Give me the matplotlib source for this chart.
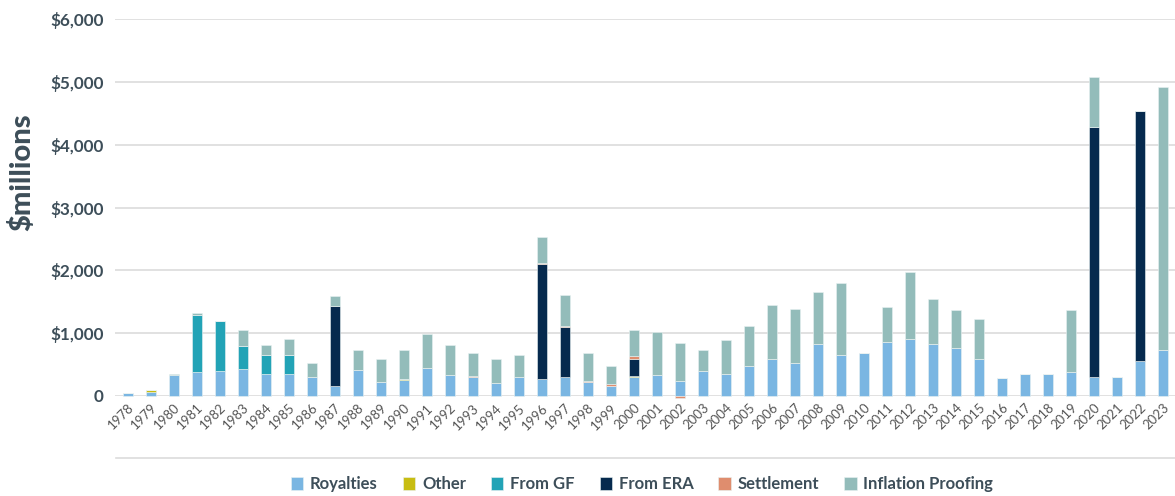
import matplotlib
matplotlib.use("Agg")
import matplotlib.pyplot as plt
from matplotlib.lines import Line2D
from matplotlib.ticker import FuncFormatter
import numpy as np

years = list(range(1978, 2024))

royalties = [50, 65, 330, 383, 400, 425, 355, 355, 310, 160,
             420, 230, 260, 440, 330, 305, 200, 305, 265, 305,
             228, 165, 305, 330, 245, 390, 355, 485, 590, 525,
             830, 655, 680, 865, 910, 830, 760, 590, 290, 355,
             355, 375, 305, 310, 550, 740]
other = [0, 30, 0, 0, 0, 0, 0, 0, 0, 0,
         0, 0, 8, 0, 0, 0, 0, 0, 0, 0,
         0, 0, 10, 0, 0, 0, 0, 0, 0, 0,
         0, 0, 0, 0, 0, 0, 0, 0, 0, 0,
         0, 0, 0, 0, 0, 0]
from_gf = [0, 0, 0, 900, 800, 378, 305, 305, 0, 0,
           0, 0, 0, 0, 0, 0, 0, 0, 0, 0,
           0, 0, 0, 0, 0, 0, 0, 0, 0, 0,
           0, 0, 0, 0, 0, 0, 0, 0, 0, 0,
           0, 0, 0, 0, 0, 0]
from_era = [0, 0, 0, 0, 0, 0, 0, 0, 0, 1275,
            0, 0, 0, 0, 0, 0, 0, 0, 1835, 795,
            0, 0, 280, 0, 0, 0, 0, 0, 0, 0,
            0, 0, 0, 0, 0, 0, 0, 0, 0, 0,
            0, 0, 3980, 0, 3980, 0]
settlement = [0, 0, 0, 0, 0, 0, 0, 0, 0, 0,
              0, 0, 0, 0, 0, 8, 0, 0, 20, 20,
              15, 20, 35, 0, -25, 0, 0, 0, 0, 0,
              0, 0, 0, 0, 0, 0, 0, 0, 0, 0,
              0, 0, 0, 0, 0, 0]
inflation = [0, 0, 25, 30, 0, 250, 155, 240, 215, 155,
             305, 365, 460, 545, 475, 370, 390, 350, 405, 480,
             435, 295, 420, 690, 600, 350, 540, 625, 865, 865,
             820, 1145, 0, 545, 1065, 715, 610, 630, 0, 0,
             0, 995, 785, 0, 0, 4175]

series = [
    ("Royalties", royalties, "#7AB6E2"),
    ("Other", other, "#C8BD12"),
    ("From GF", from_gf, "#22A3B6"),
    ("From ERA", from_era, "#062A4E"),
    ("Settlement", settlement, "#DF8D6E"),
    ("Inflation Proofing", inflation, "#93BCBA"),
]

plt.rcParams['font.family'] = ['Lato', 'DejaVu Sans']

W, H = 1175, 496
fig = plt.figure(figsize=(W / 100, H / 100), dpi=100)
ax = fig.add_axes([115 / W, 1 - 396 / H, 1 - 115 / W, (396 - 19) / H])

x = np.arange(len(years))
pos_bottom = np.zeros(len(years))
neg_bottom = np.zeros(len(years))
handles = []
for name, vals, color in series:
    v = np.array(vals, dtype=float)
    bottoms = np.where(v >= 0, pos_bottom, neg_bottom)
    bars = ax.bar(x, v, width=0.43, bottom=bottoms, color=color,
                  edgecolor="#EAF2F2", linewidth=0.4, zorder=3, label=name,
                  clip_on=False)
    pos_bottom += np.where(v > 0, v, 0)
    neg_bottom += np.where(v < 0, v, 0)
    handles.append(bars)

ax.set_ylim(0, 6000)
ax.set_xlim(-0.565, len(years) - 1 + 0.52)
ax.set_yticks(np.arange(0, 6001, 1000))
ax.yaxis.set_major_formatter(FuncFormatter(lambda v, p: "0" if v == 0 else f"${v:,.0f}"))
ax.grid(axis="y", color="#DEDEDE", linewidth=1.3, zorder=0)
ax.set_axisbelow(True)
for s in ax.spines.values():
    s.set_visible(False)

ax.set_xticks(x)
ax.set_xticklabels([str(y) for y in years], rotation=45, ha="right",
                   rotation_mode="anchor", fontsize=9.5, color="#555555")
ax.tick_params(axis="x", length=0, pad=4)
ax.tick_params(axis="y", length=0, pad=8, labelsize=12.3, labelcolor="#3D4E59")
for lbl in ax.get_yticklabels():
    lbl.set_fontweight("bold")

fig.text(22 / W, 1 - 172 / H, "$millions", rotation=90, ha="center", va="center",
         fontsize=21, fontweight="black", color="#3D4E59")

fig.add_artist(Line2D([116 / W, 1.0], [1 - 458 / H, 1 - 458 / H],
                      color="#DCDCDC", linewidth=1.2))

leg = fig.legend(handles=handles, labels=[s[0] for s in series],
                 loc="center", bbox_to_anchor=(642 / W, 1 - 484 / H), ncol=6,
                 frameon=False, handlelength=0.75, handleheight=0.85,
                 handletextpad=0.4, columnspacing=1.5,
                 prop={"size": 12, "weight": "bold"})
for t in leg.get_texts():
    t.set_color("#3D4E59")

fig.savefig("out.png", dpi=100)
